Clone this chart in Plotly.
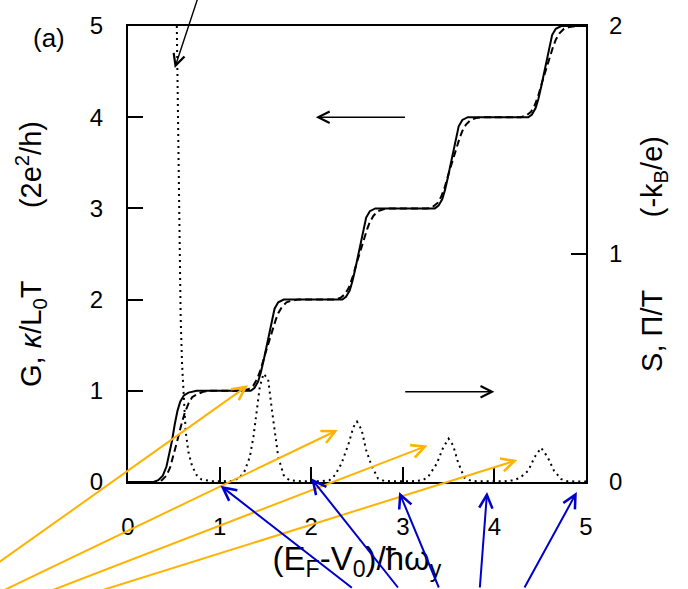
import plotly.graph_objects as go

# ---------------- data ----------------
# conductance G (solid)
g_x = [0.00, 0.28, 0.33, 0.38, 0.42, 0.45, 0.48, 0.51, 0.54, 0.57, 0.61, 0.66, 0.75,
       1.34, 1.38, 1.42, 1.45, 1.48, 1.51, 1.54, 1.57, 1.60, 1.64, 1.70,
       2.34, 2.38, 2.42, 2.45, 2.48, 2.51, 2.54, 2.57, 2.60, 2.64, 2.70,
       3.35, 3.39, 3.43, 3.46, 3.49, 3.52, 3.55, 3.58, 3.61, 3.65, 3.71,
       4.37, 4.41, 4.45, 4.48, 4.51, 4.54, 4.57, 4.60, 4.63, 4.67, 4.73, 5.00]
g_y = [0.00, 0.00, 0.02, 0.07, 0.17, 0.30, 0.45, 0.63, 0.78, 0.88, 0.95, 0.98, 1.00,
       1.00, 1.03, 1.10, 1.20, 1.33, 1.48, 1.64, 1.79, 1.90, 1.97, 2.00,
       2.00, 2.03, 2.10, 2.20, 2.33, 2.48, 2.64, 2.79, 2.90, 2.97, 3.00,
       3.00, 3.03, 3.10, 3.20, 3.33, 3.48, 3.64, 3.79, 3.90, 3.97, 4.00,
       4.00, 4.03, 4.10, 4.20, 4.33, 4.48, 4.64, 4.79, 4.90, 4.97, 5.00, 5.00]

# thermal conductance kappa/L0T (dashed)
k_x = [0.00, 0.32, 0.37, 0.42, 0.46, 0.50, 0.54, 0.58, 0.62, 0.66, 0.70, 0.75, 0.82, 0.90,
       1.26, 1.32, 1.37, 1.41, 1.45, 1.49, 1.52, 1.55, 1.58, 1.61, 1.64, 1.68, 1.73, 1.79, 1.86,
       2.26, 2.32, 2.37, 2.41, 2.45, 2.49, 2.52, 2.55, 2.58, 2.61, 2.64, 2.68, 2.73, 2.79, 2.86,
       3.27, 3.33, 3.38, 3.42, 3.46, 3.50, 3.53, 3.56, 3.59, 3.62, 3.65, 3.69, 3.74, 3.80, 3.87,
       4.29, 4.35, 4.40, 4.44, 4.48, 4.52, 4.55, 4.58, 4.61, 4.64, 4.67, 4.71, 4.76, 4.82, 4.89, 5.00]
k_y = [0.00, 0.00, 0.02, 0.07, 0.16, 0.30, 0.46, 0.62, 0.76, 0.86, 0.93, 0.96, 0.99, 1.00,
       1.00, 1.02, 1.06, 1.13, 1.24, 1.38, 1.48, 1.58, 1.68, 1.77, 1.85, 1.92, 1.97, 1.99, 2.00,
       2.00, 2.02, 2.06, 2.13, 2.24, 2.38, 2.48, 2.58, 2.68, 2.77, 2.85, 2.92, 2.97, 2.99, 3.00,
       3.00, 3.02, 3.06, 3.13, 3.24, 3.38, 3.48, 3.58, 3.68, 3.77, 3.85, 3.92, 3.97, 3.99, 4.00,
       4.00, 4.02, 4.06, 4.13, 4.24, 4.38, 4.48, 4.58, 4.68, 4.77, 4.85, 4.92, 4.97, 4.99, 5.00, 5.00]

# thermopower S, Pi/T (dotted, right axis)
s_x = [0.50, 0.53, 0.545, 0.56, 0.575, 0.59, 0.61, 0.63, 0.66, 0.70, 0.75, 0.80, 0.90, 1.00,
       1.15, 1.22, 1.27, 1.33, 1.37, 1.41, 1.44, 1.48, 1.53, 1.57, 1.61, 1.64, 1.70, 1.76, 1.90,
       2.10, 2.20, 2.26, 2.33, 2.41, 2.46, 2.50, 2.55, 2.60, 2.66, 2.73, 2.80,
       3.10, 3.22, 3.28, 3.37, 3.44, 3.50, 3.55, 3.60, 3.67, 3.75,
       4.10, 4.22, 4.29, 4.37, 4.44, 4.51, 4.58, 4.65, 4.73, 4.80, 5.00]
s_y = [3.00, 2.00, 1.50, 1.00, 0.72, 0.52, 0.34, 0.22, 0.13, 0.07, 0.03, 0.012, 0.004, 0.003,
       0.005, 0.02, 0.045, 0.11, 0.20, 0.32, 0.42, 0.475, 0.45, 0.32, 0.20, 0.11, 0.03, 0.008, 0.003,
       0.003, 0.008, 0.03, 0.08, 0.17, 0.24, 0.265, 0.23, 0.14, 0.07, 0.015, 0.004,
       0.003, 0.008, 0.025, 0.08, 0.15, 0.19, 0.16, 0.09, 0.02, 0.004,
       0.003, 0.008, 0.022, 0.05, 0.11, 0.15, 0.11, 0.05, 0.012, 0.003, 0.002]

x_ticks = [0, 1, 2, 3, 4, 5]
y_ticks = [0, 1, 2, 3, 4, 5]
y2_ticks = [0, 1, 2]

# arrows: (head_x, head_y, tail_x, tail_y) in left-axis data units
black_arrows = [(0.51, 4.54, 0.79, 5.39),
                (2.05, 4.00, 3.04, 4.00),
                (4.00, 0.99, 3.01, 0.99)]
orange_arrows = [(1.31, 1.06, -1.59, -1.01),
                 (2.29, 0.57, -1.59, -1.30),
                 (3.27, 0.40, -0.94, -1.23),
                 (4.25, 0.24, -0.39, -1.22)]
blue_arrows = [(1.01, -0.04, 2.46, -1.28),
               (2.00, 0.04, 2.96, -1.28),
               (2.96, -0.11, 3.40, -1.28),
               (3.92, -0.11, 3.84, -1.28),
               (4.90, -0.11, 4.32, -1.28)]

FONT = "Liberation Sans, Arial, sans-serif"
NB = "\u00a0"

fig = go.Figure()
fig.add_trace(go.Scatter(x=g_x, y=g_y, mode="lines",
                         line=dict(color="black", width=2), showlegend=False))
fig.add_trace(go.Scatter(x=k_x, y=k_y, mode="lines",
                         line=dict(color="black", width=2, dash="7px,4px"), showlegend=False))
fig.add_trace(go.Scatter(x=s_x, y=s_y, mode="lines", yaxis="y2",
                         line=dict(color="black", width=2, dash="2px,4px"), showlegend=False))

W, H = 688, 589
ML, MR, MT, MB = 128, 102, 26, 107
plot_h = H - MT - MB

anns = []
def arrow(h, color, width, size):
    hx, hy, tx, ty = h
    return dict(x=hx, y=hy, xref="x", yref="y", ax=tx, ay=ty, axref="x", ayref="y",
                text="", showarrow=True, arrowhead=5, arrowsize=size, arrowwidth=width,
                arrowcolor=color)

for a in black_arrows:
    anns.append(arrow(a, "black", 1.4, 1.6))
for a in orange_arrows:
    anns.append(arrow(a, "#FFB300", 2, 1.3))
for a in blue_arrows:
    hx, hy, tx, ty = a
    anns.append(dict(x=hx, y=hy / 5.0, xref="x", yref="paper",
                     ax=tx, axref="x", ay=-(ty - hy) * plot_h / 5.0, ayref="pixel",
                     text="", showarrow=True, arrowhead=5, arrowsize=1.3, arrowwidth=2,
                     arrowcolor="#0000CC"))

anns.append(dict(text="(a)", x=-0.212, y=1.012, xref="paper", yref="paper",
                 showarrow=False, font=dict(size=26, color="black", family=FONT)))

fig.update_layout(
    width=W, height=H,
    margin=dict(l=ML, r=MR, t=MT, b=MB, pad=0),
    paper_bgcolor="white", plot_bgcolor="white",
    font=dict(family=FONT, color="black", size=24),
    xaxis=dict(range=[0, 5], tickvals=x_ticks, ticks="inside", ticklen=15, tickwidth=1.5,
               tickcolor="black", showline=True, linecolor="black", linewidth=2,
               mirror=True, showgrid=False, zeroline=False, ticklabelstandoff=22,
               tickfont=dict(size=24),
               title=dict(text="(E<sub>F</sub>-V<sub>0</sub>)/ħω<sub>y</sub>",
                          font=dict(size=33), standoff=6)),
    yaxis=dict(range=[0, 5], tickvals=y_ticks, ticks="inside", ticklen=15, tickwidth=1.5,
               tickcolor="black", showline=True, linecolor="black", linewidth=2,
               mirror=True, showgrid=False, zeroline=False, ticklabelstandoff=18,
               tickfont=dict(size=24),
               title=dict(text="G, <i>κ</i>/L<sub>0</sub>T" + NB * 9 + "(2e<sup>2</sup>/h)",
                          font=dict(size=29), standoff=40)),
    yaxis2=dict(range=[0, 2], tickvals=y2_ticks, ticks="inside", ticklen=15, tickwidth=1.5,
                tickcolor="black", overlaying="y", side="right", showline=False,
                showgrid=False, zeroline=False, ticklabelstandoff=22,
                tickfont=dict(size=24),
                title=dict(text="S, Π/T" + NB * 9 + "(-k<sub>B</sub>/e)",
                           font=dict(size=29), standoff=20)),
    annotations=anns,
)

fig.write_html("out.html")
